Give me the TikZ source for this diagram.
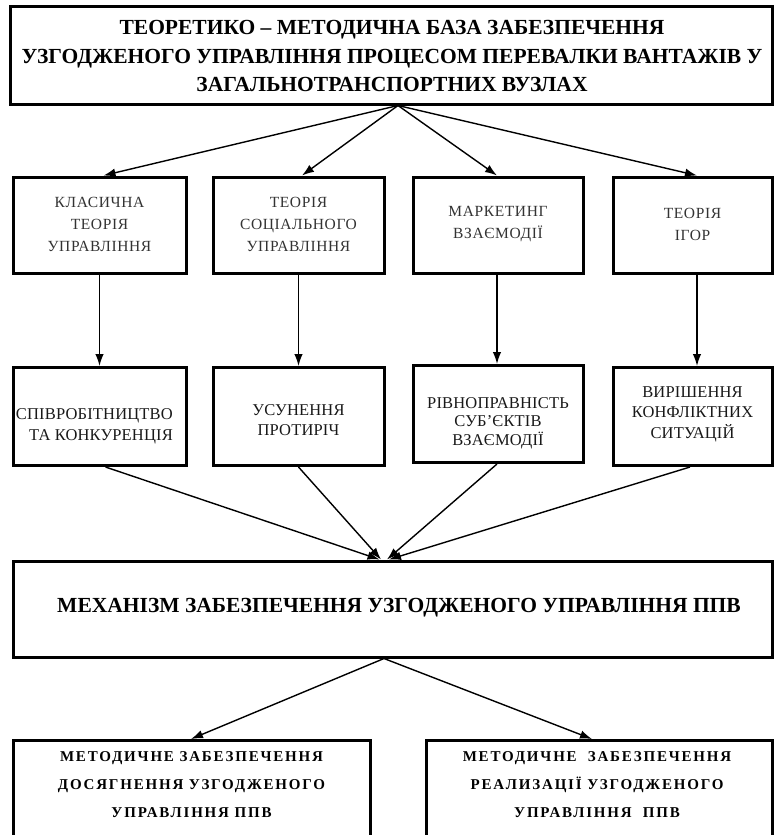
\documentclass[tikz,border=0pt]{standalone}
\usepackage{fontspec}
\setmainfont{Liberation Serif}
\newfontfamily\spacedA[LetterSpace=4]{Liberation Serif}
\newfontfamily\spacedB[LetterSpace=1]{Liberation Serif}
\newfontfamily\spacedC[LetterSpace=12]{Liberation Serif}
\usetikzlibrary{arrows.meta}
\begin{document}
\begin{tikzpicture}[x=1pt,y=-1pt,
  box/.style={draw, line width=3pt, inner sep=0pt},
  lbl/.style={align=center, inner sep=0pt},
  rowa/.style={lbl, text=black!80, font=\spacedA\fontsize{15.5}{22}\selectfont},
  rowb/.style={lbl, text=black!90, font=\spacedB\fontsize{16.5}{21}\selectfont},
  bot/.style={lbl, font=\spacedC\bfseries\fontsize{15}{28}\selectfont},
  conn/.style={line width=1.4pt, -{Latex[length=12pt,width=8.5pt]}}]
\useasboundingbox (0,0) rectangle (776,835);
\clip (0,0) rectangle (776,835);
\fill[white] (0,0) rectangle (776,835);

% top
\node[box, minimum width=762pt, minimum height=98pt] (top) at (391,55) {};
\node[lbl, font=\bfseries\fontsize{21.5}{28.5}\selectfont] (topt) at (392,56)
  {ТЕОРЕТИКО – МЕТОДИЧНА БАЗА ЗАБЕЗПЕЧЕННЯ\\УЗГОДЖЕНОГО УПРАВЛІННЯ ПРОЦЕСОМ ПЕРЕВАЛКИ ВАНТАЖІВ У\\ЗАГАЛЬНОТРАНСПОРТНИХ ВУЗЛАХ};

% row 1
\node[box, minimum width=173pt, minimum height=96pt] (a1) at (99.5,225) {};
\node[box, minimum width=171pt, minimum height=96pt] (a2) at (298.5,225) {};
\node[box, minimum width=170pt, minimum height=96pt] (a3) at (498,225) {};
\node[box, minimum width=159pt, minimum height=96pt] (a4) at (692.5,225) {};
\node[rowa] (a1t) at (99.5,224) {КЛАСИЧНА\\ТЕОРІЯ\\УПРАВЛІННЯ};
\node[rowa] (a2t) at (298.5,224) {ТЕОРІЯ\\СОЦІАЛЬНОГО\\УПРАВЛІННЯ};
\node[rowa] (a3t) at (498,224.5) {МАРКЕТИНГ\\ВЗАЄМОДІЇ};
\node[rowa] (a4t) at (692.5,224.5) {ТЕОРІЯ\\ІГОР};

% row 2
\node[box, minimum width=173pt, minimum height=98pt] (b1) at (99.5,416.5) {};
\node[box, minimum width=171pt, minimum height=98pt] (b2) at (298.5,416.5) {};
\node[box, minimum width=170pt, minimum height=97pt] (b3) at (498,414) {};
\node[box, minimum width=159pt, minimum height=98pt] (b4) at (692.5,416.5) {};
\node[rowb, align=right, anchor=east] (b1t) at (173,426) {СПІВРОБІТНИЦТВО\\ТА КОНКУРЕНЦІЯ};
\node[rowb, font=\spacedB\fontsize{16.5}{20}\selectfont] (b2t) at (298.5,420) {УСУНЕННЯ\\ПРОТИРІЧ};
\node[rowb, font=\spacedB\fontsize{16.5}{18.5}\selectfont] (b3t) at (498,423) {РІВНОПРАВНІСТЬ\\СУБ’ЄКТІВ\\ВЗАЄМОДІЇ};
\node[rowb, font=\spacedB\fontsize{16.5}{20.5}\selectfont] (b4t) at (692.5,414) {ВИРІШЕННЯ\\КОНФЛІКТНИХ\\СИТУАЦІЙ};

% main
\node[box, minimum width=759pt, minimum height=96pt] (m) at (392.5,609) {};
\node[lbl, font=\bfseries\fontsize{21.5}{23}\selectfont] (mt) at (399,608)
  {МЕХАНІЗМ ЗАБЕЗПЕЧЕННЯ УЗГОДЖЕНОГО УПРАВЛІННЯ ППВ};

% bottom
\node[box, minimum width=357pt, minimum height=110pt] (c1) at (191.5,795.5) {};
\node[box, minimum width=346pt, minimum height=110pt] (c2) at (599,795.5) {};
\node[bot] (c1t) at (191.5,785) {МЕТОДИЧНЕ ЗАБЕЗПЕЧЕННЯ\\ДОСЯГНЕННЯ УЗГОДЖЕНОГО\\УПРАВЛІННЯ ППВ};
\node[bot] (c2t) at (597,785) {МЕТОДИЧНЕ\ \ ЗАБЕЗПЕЧЕННЯ\\РЕАЛИЗАЦІЇ УЗГОДЖЕНОГО\\УПРАВЛІННЯ\ \ ППВ};

% connectors: top -> row 1
\draw[conn] ([xshift=7pt]top.south) -- ([xshift=4pt]a1.north);
\draw[conn] ([xshift=7pt]top.south) -- ([xshift=3.5pt]a2.north);
\draw[conn] ([xshift=7pt]top.south) -- ([xshift=-1pt]a3.north);
\draw[conn] ([xshift=7pt]top.south) -- ([xshift=4.5pt]a4.north);

% row 1 -> row 2
\draw[conn] (a1.south) -- (a1.south |- b1.north);
\draw[conn] (a2.south) -- (a2.south |- b2.north);
\draw[conn] ([xshift=-1pt]a3.south) -- ([xshift=-1pt]a3.south |- b3.north);
\draw[conn] ([xshift=4.5pt]a4.south) -- ([xshift=4.5pt]a4.south |- b4.north);

% row 2 -> main
\draw[conn] ([xshift=6pt]b1.south) -- ([xshift=-13pt]m.north);
\draw[conn] (b2.south) -- ([xshift=-11.5pt]m.north);
\draw[conn] ([xshift=-1pt]b3.south) -- ([xshift=-5.5pt]m.north);
\draw[conn] ([xshift=-2.5pt]b4.south) -- ([xshift=-3.5pt]m.north);

% main -> bottom
\draw[conn] ([xshift=-8.5pt]m.south) -- ([xshift=-0.5pt]c1.north);
\draw[conn] ([xshift=-8.5pt]m.south) -- ([xshift=-7pt]c2.north);
\end{tikzpicture}
\end{document}
